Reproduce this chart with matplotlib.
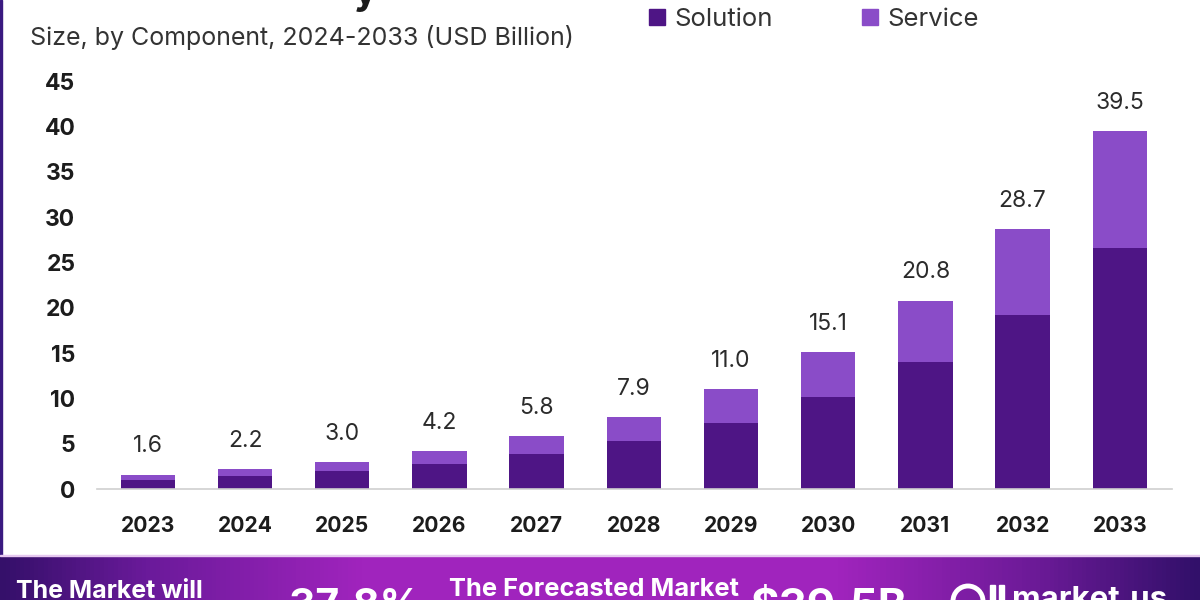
#!/usr/bin/env python3
"""Stacked bar chart of market size by component, with the purple footer band."""

import matplotlib
import numpy as np

matplotlib.use("Agg")
import matplotlib.pyplot as plt
from matplotlib.colors import LinearSegmentedColormap
from matplotlib.patches import Ellipse, Rectangle

YEARS = ["2023", "2024", "2025", "2026", "2027", "2028", "2029", "2030", "2031", "2032", "2033"]
TOTALS = [1.6, 2.2, 3.0, 4.2, 5.8, 7.9, 11.0, 15.1, 20.8, 28.7, 39.5]
SOLUTION = [1.0, 1.4, 2.0, 2.8, 3.9, 5.3, 7.3, 10.1, 14.0, 19.2, 26.6]
SERVICE = [0.6, 0.8, 1.0, 1.4, 1.9, 2.6, 3.7, 5.0, 6.8, 9.5, 12.9]
Y_TICKS = [0, 5, 10, 15, 20, 25, 30, 35, 40, 45]

SOLUTION_COLOR = "#4e1585"
SERVICE_COLOR = "#8a4cc8"
TEXT = "#2b2b2b"
FONT = "Inter"
W, H = 1200, 600


def px(x, y):
    return x / W, 1 - y / H


def draw_footer(fig):
    band = fig.add_axes([0, 0, 1, 44 / H])
    cmap = LinearSegmentedColormap.from_list(
        "band",
        [(0, "#35106a"), (0.12, "#6a1a9a"), (0.3, "#a024bd"), (0.7, "#a024bd"), (0.87, "#6a1a96"), (1, "#32106a")],
    )
    band.imshow(np.linspace(0, 1, 600).reshape(1, -1), cmap=cmap, aspect="auto")
    band.set_axis_off()
    fig.add_artist(Rectangle(px(0, 556), 1, 1.5 / H, transform=fig.transFigure, color="#e6c8f0"))

    fig.text(*px(109, 592), "The Market will", color="white", fontsize=18, fontweight="bold",
             family=FONT, ha="center", va="center")
    fig.text(*px(355, 607), "37.8%", color="white", fontsize=29.5, fontweight="bold",
             family=FONT, ha="center", va="center")
    fig.text(*px(594, 590), "The Forecasted Market", color="white", fontsize=18.4, fontweight="bold",
             family=FONT, ha="center", va="center")
    fig.text(*px(829, 608), "$39.5B", color="white", fontsize=31.5, fontweight="bold",
             family=FONT, ha="center", va="center")
    fig.text(*px(1090, 600), "market.us", color="white", fontsize=22.5, fontweight="bold",
             family=FONT, ha="center", va="center")
    # logo ring and bars, cut by the bottom edge like the text
    fig.add_artist(Ellipse(px(968, 601), 30 / W, 30 / H, transform=fig.transFigure, fill=False,
                           edgecolor="white", linewidth=3.5))
    fig.add_artist(Rectangle(px(990, 600), 5 / W, 15 / H, transform=fig.transFigure, color="white"))
    fig.add_artist(Rectangle(px(999, 600), 5 / W, 15 / H, transform=fig.transFigure, color="white"))


def main():
    fig = plt.figure(figsize=(12, 6), dpi=100, facecolor="white")

    # axes sized so a unit is about 9.06 px and the bars step about 97.2 px
    ax = fig.add_axes([97 / W, (H - 489) / H, 1075 / W, 429 / H])
    x = np.arange(len(YEARS))
    ax.bar(x, SOLUTION, width=0.56, color=SOLUTION_COLOR, zorder=2)
    ax.bar(x, SERVICE, width=0.56, bottom=SOLUTION, color=SERVICE_COLOR, zorder=2)

    for pos, total in zip(x, TOTALS):
        ax.annotate(f"{total:.1f}", (pos, total), xytext=(0, 20.2), textcoords="offset points",
                    ha="center", va="center", fontsize=16.5, color=TEXT, family=FONT)

    ax.set_xlim(-0.523, 10.537)
    ax.set_ylim(0, 47.35)
    ax.set_xticks(x, YEARS, fontsize=15.2, fontweight="bold", color="#1c1c1c", family=FONT)
    ax.set_yticks(Y_TICKS, [str(t) for t in Y_TICKS], fontsize=16.5, fontweight="bold",
                  color="#1c1c1c", family=FONT)
    ax.tick_params(axis="x", length=0, pad=19.5)
    ax.tick_params(axis="y", length=0, pad=15.5)
    for spine in ["top", "right", "left"]:
        ax.spines[spine].set_visible(False)
    ax.spines["bottom"].set_color("#cfcfcf")
    ax.spines["bottom"].set_linewidth(1.2)

    fig.text(*px(30, 37), "Size, by Component, 2024-2033 (USD Billion)", fontsize=18,
             color="#333333", family=FONT, va="center")
    # only the tail of the cropped title's y survives at the top edge
    fig.text(*px(365, -7), "y", fontsize=28, fontweight="bold", color="#1c1c1c",
             family=FONT, ha="center", va="center")

    # legend
    fig.add_artist(Rectangle(px(649, 25), 16 / W, 16 / H, transform=fig.transFigure, color=SOLUTION_COLOR))
    fig.text(*px(674, 19), "Solution", fontsize=18.5, color="#333333", family=FONT, va="center")
    fig.add_artist(Rectangle(px(862, 25), 16 / W, 16 / H, transform=fig.transFigure, color=SERVICE_COLOR))
    fig.text(*px(887, 19), "Service", fontsize=18.5, color="#333333", family=FONT, va="center")

    # dark frame on the left edge
    fig.add_artist(Rectangle((0, 44 / H), 2 / W, 1 - 44 / H, transform=fig.transFigure, color="#3a1a80"))
    draw_footer(fig)

    fig.savefig("out.png", dpi=100, facecolor="white")
    plt.close(fig)


if __name__ == "__main__":
    main()
